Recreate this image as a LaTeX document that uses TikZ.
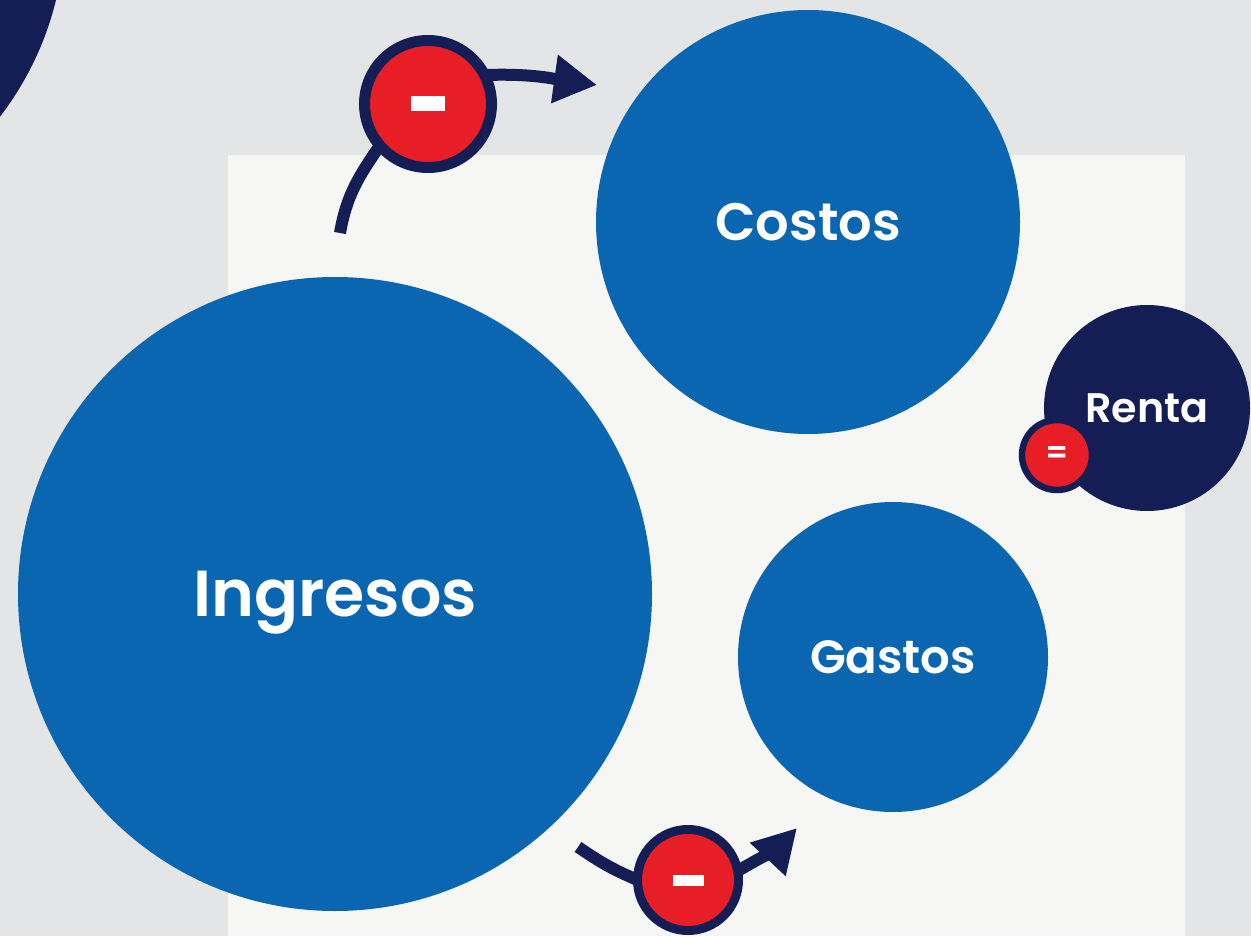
\documentclass[tikz,border=0pt]{standalone}
\usepackage{fontspec}
\setmainfont{Poppins}
\newfontfamily\labelfont{Poppins SemiBold}
\usetikzlibrary{arrows.meta}
\definecolor{bubbleBlue}{RGB}{10,102,176}
\definecolor{navy}{RGB}{21,30,84}
\definecolor{signRed}{RGB}{232,30,38}
\definecolor{photoGray}{RGB}{228,229,231}
\definecolor{paper}{RGB}{246,246,244}
\pgfdeclarelayer{back}
\pgfdeclarelayer{wires}
\pgfsetlayers{back,wires,main}

\begin{document}
\begin{tikzpicture}[
    bubble/.style={circle, fill=bubbleBlue, text=white, inner sep=0pt, font=\labelfont},
    sign/.style={circle, fill=signRed, draw=navy, inner sep=0pt},
    flow/.style={draw=navy, line width=0.24cm},
    >={Triangle[length=0.86cm,width=0.92cm]}
  ]

  \path[use as bounding box, clip] (0,0) rectangle (25.02,18.72);

  % draw the blurred photo behind
  \begin{pgfonlayer}{back}
    \fill[photoGray] (0,0) rectangle (25.02,18.72);
    \fill[paper] (4.56,0) rectangle (23.70,15.62);
  \end{pgfonlayer}

  % draw the bubbles
  \node[circle, fill=navy, minimum size=12.6cm] (corner) at (-5.0,20.22) {};
  \node[bubble, minimum size=8.48cm, font=\labelfont\fontsize{30}{30}\selectfont] (costos) at (16.16,14.28) {Costos};
  \node[bubble, minimum size=12.68cm, text depth=0pt, font=\labelfont\fontsize{37}{37}\selectfont] (ingresos) at (6.70,6.84) {Ingresos};
  \node[bubble, minimum size=6.2cm, font=\labelfont\fontsize{26.5}{26.5}\selectfont] (gastos) at (17.86,5.58) {Gastos};
  \node[bubble, fill=navy, minimum size=4.12cm, font=\labelfont\fontsize{23.5}{23.5}\selectfont] (renta) at (22.94,10.56) {Renta};

  % draw the signs
  \node[sign, line width=0.22cm, minimum size=2.54cm] (minusTop) at (8.56,16.64) {\color{white}\rule{0.68cm}{0.3cm}};
  \node[sign, line width=0.18cm, minimum size=2.02cm] (minusBot) at (13.76,1.12) {\color{white}\rule{0.62cm}{0.22cm}};
  \node[sign, line width=0.13cm, minimum size=1.4cm, text=white, font=\labelfont\fontsize{18}{18}\selectfont] (equal) at (21.14,9.62) {=};

  % draw the arrows through the signs
  \coordinate (upStart) at (6.80,14.06);
  \coordinate (upTip) at (11.94,17.02);
  \coordinate (downStart) at (11.56,1.78);
  \coordinate (downTip) at (15.94,2.16);
  \begin{pgfonlayer}{wires}
    \draw[flow, shorten >=-3pt] (upStart) to[out=80,in=235] (minusTop.222);
    \draw[flow, ->, shorten <=-3pt] (minusTop.25) to[out=2,in=172] (upTip);
    \draw[flow, shorten >=-3pt] (downStart) to[out=-34,in=157] (minusBot.178);
    \draw[flow, ->, shorten <=-3pt] (minusBot.12) to[out=30,in=227] (downTip);
  \end{pgfonlayer}

\end{tikzpicture}
\end{document}
